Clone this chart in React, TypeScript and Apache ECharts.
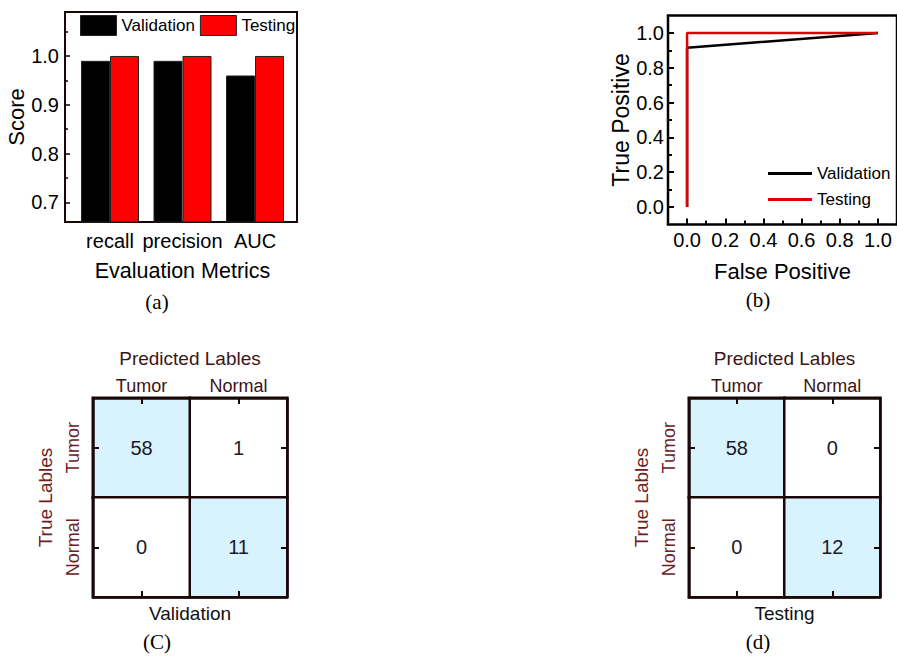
import React, { useEffect, useRef } from "react";
import * as echarts from "echarts";

const categories = ["recall", "precision", "AUC"];
const validationScores = [0.99, 0.99, 0.96];
const testingScores = [1.0, 1.0, 1.0];
const scoreTicks = [0.7, 0.8, 0.9, 1.0];
const scoreMinorTicks = [0.75, 0.85, 0.95, 1.05];

const rocValidation = [
  [0, 0],
  [0, 0.915],
  [1, 1],
];
const rocTesting = [
  [0, 0],
  [0, 1],
  [1, 1],
];
const rocTicks = [0, 0.2, 0.4, 0.6, 0.8, 1.0];
const rocMinorTicks = [0.1, 0.3, 0.5, 0.7, 0.9];

const classLabels = ["Tumor", "Normal"];
const validationMatrix = [
  [0, 0, 58],
  [1, 0, 1],
  [0, 1, 0],
  [1, 1, 11],
];
const testingMatrix = [
  [0, 0, 58],
  [1, 0, 0],
  [0, 1, 0],
  [1, 1, 12],
];

const FONT = "Liberation Sans, Arial, sans-serif";
const SERIF = "Liberation Serif, Times New Roman, serif";
const FRAME = "#1a0808";
const BROWN = "#3d1515";
const REDBROWN = "#6a2222";
const TICK = "#000";

export default function App() {
  const ref = useRef<HTMLDivElement>(null);

  useEffect(() => {
    if (!ref.current) return;
    const chart = echarts.init(ref.current, null, { renderer: "svg" });

    const fmt1 = (v: number) => v.toFixed(1);

    // axis that only draws tick marks
    const tickAxis = (grid: number, pos: string, min: number, max: number, values: number[], length: number, width: number) => ({
      type: "value",
      gridIndex: grid,
      min,
      max,
      position: pos,
      z: 5,
      axisLine: { show: false, onZero: false },
      splitLine: { show: false },
      axisLabel: { show: false },
      axisTick: { show: true, inside: true, length, customValues: values, lineStyle: { color: TICK, width } },
    });

    const heatX = (grid: number, top: boolean, name: string, nameGap: number, nameColor: string) => ({
      type: "category",
      gridIndex: grid,
      data: classLabels,
      position: top ? "top" : "bottom",
      z: 10,
      axisLine: { show: true, onZero: false, lineStyle: { color: FRAME, width: 2.5 } },
      axisTick: { show: true, inside: true, alignWithLabel: true, length: 6, lineStyle: { color: FRAME, width: 2 } },
      axisLabel: { show: top, fontSize: 18, color: BROWN, margin: 3, fontFamily: FONT, interval: 0 },
      splitLine: { show: false },
      name,
      nameLocation: "middle",
      nameGap,
      nameTextStyle: { fontSize: 19, color: nameColor, fontFamily: FONT },
    });

    const heatY = (grid: number, left: boolean) => ({
      type: "category",
      gridIndex: grid,
      data: classLabels,
      inverse: true,
      position: left ? "left" : "right",
      z: 10,
      axisLine: { show: true, onZero: false, lineStyle: { color: FRAME, width: 2.5 } },
      axisTick: { show: true, inside: true, alignWithLabel: true, length: 6, lineStyle: { color: FRAME, width: 2 } },
      axisLabel: { show: left, fontSize: 18, color: REDBROWN, margin: 11, rotate: 90, fontFamily: FONT, interval: 0 },
      splitLine: { show: false },
      name: left ? "True Lables" : "",
      nameLocation: "middle",
      nameGap: 38,
      nameTextStyle: { fontSize: 19, color: REDBROWN, fontFamily: FONT },
    });

    const option: any = {
      animation: false,
      textStyle: { fontFamily: FONT },
      grid: [
        { left: 65, right: 600, top: 12, bottom: 435, show: true, borderColor: FRAME, borderWidth: 2, backgroundColor: "transparent" },
        { left: 73.75, right: 605.75, top: 12, bottom: 435 },
        { left: 668, right: -4, top: 15.6, bottom: 432.6, show: true, borderColor: "#000", borderWidth: 2.5, backgroundColor: "transparent" },
        { left: 93, right: 610, top: 398, bottom: 60 },
        { left: 689, right: 17, top: 398, bottom: 60 },
      ],
      legend: [
        {
          left: 80,
          top: 15,
          padding: 0,
          itemWidth: 36,
          itemHeight: 20,
          itemGap: 5,
          icon: "rect",
          textStyle: { fontSize: 17, color: "#000", fontFamily: FONT },
          data: [
            { name: "Validation", itemStyle: { color: "#000", borderColor: "#222", borderWidth: 1 } },
            { name: "Testing", itemStyle: { color: "#ff0000", borderColor: "#222", borderWidth: 1 } },
          ],
        },
        {
          left: 768,
          top: 165,
          padding: 0,
          orient: "vertical",
          itemWidth: 44,
          itemHeight: 3,
          itemGap: 9,
          icon: "rect",
          textStyle: { fontSize: 17, color: "#000", fontFamily: FONT },
          data: [
            { name: "Validation", itemStyle: { color: "#000", borderWidth: 0 } },
            { name: "Testing", itemStyle: { color: "#e00000", borderWidth: 0 } },
          ],
        },
      ],
      visualMap: [
        {
          type: "piecewise",
          show: false,
          seriesIndex: [4, 5],
          dimension: 2,
          pieces: [
            { min: -1, max: 5, color: "#ffffff" },
            { min: 5, max: 1000, color: "#d8f3fd" },
          ],
        },
      ],
      xAxis: [
        { type: "value", gridIndex: 0, min: 0, max: 1, show: false },
        {
          type: "category",
          gridIndex: 1,
          data: categories,
          axisLine: { show: false, onZero: false },
          axisTick: { show: false },
          axisLabel: { fontSize: 20, color: "#000", margin: 9, fontFamily: FONT, interval: 0 },
          name: "Evaluation Metrics",
          nameLocation: "middle",
          nameGap: 38,
          nameTextStyle: { fontSize: 21.5, color: "#000", fontFamily: FONT },
        },
        {
          type: "value",
          gridIndex: 2,
          min: -0.1,
          max: 1.1,
          position: "bottom",
          axisLine: { show: false, onZero: false },
          splitLine: { show: false },
          axisTick: { show: false },
          axisLabel: { fontSize: 20, color: "#000", margin: 6, customValues: rocTicks, formatter: fmt1, fontFamily: FONT },
          name: "False Positive",
          nameLocation: "middle",
          nameGap: 36,
          nameTextStyle: { fontSize: 22, color: "#000", fontFamily: FONT },
        },
        tickAxis(2, "bottom", -0.1, 1.1, rocTicks, 6, 2),
        tickAxis(2, "bottom", -0.1, 1.1, rocMinorTicks, 4, 2),
        heatX(3, true, "Predicted Lables", 30, BROWN),
        heatX(3, false, "Validation", 7, "#111"),
        heatX(4, true, "Predicted Lables", 30, BROWN),
        heatX(4, false, "Testing", 7, "#111"),
      ],
      yAxis: [
        {
          type: "value",
          gridIndex: 0,
          min: 0.66,
          max: 1.09,
          position: "left",
          axisLine: { show: false, onZero: false },
          splitLine: { show: false },
          axisTick: { show: false },
          axisLabel: { fontSize: 20, color: "#000", margin: 6, customValues: scoreTicks, formatter: fmt1, fontFamily: FONT },
          name: "Score",
          nameLocation: "middle",
          nameGap: 37,
          nameTextStyle: { fontSize: 22, color: "#000", fontFamily: FONT },
        },
        tickAxis(0, "left", 0.66, 1.09, scoreTicks, 5, 1.5),
        tickAxis(0, "left", 0.66, 1.09, scoreMinorTicks, 3, 1.5),
        { type: "value", gridIndex: 1, min: 0.66, max: 1.09, show: false },
        {
          type: "value",
          gridIndex: 2,
          min: -0.1,
          max: 1.1,
          position: "left",
          axisLine: { show: false, onZero: false },
          splitLine: { show: false },
          axisTick: { show: false },
          axisLabel: { fontSize: 20, color: "#000", margin: 4, customValues: rocTicks, formatter: fmt1, fontFamily: FONT },
          name: "True Positive",
          nameLocation: "middle",
          nameGap: 35,
          nameTextStyle: { fontSize: 23, color: "#000", fontFamily: FONT },
        },
        tickAxis(2, "left", -0.1, 1.1, rocTicks, 6, 2),
        tickAxis(2, "left", -0.1, 1.1, rocMinorTicks, 4, 2),
        heatY(3, true),
        heatY(3, false),
        heatY(4, true),
        heatY(4, false),
      ],
      series: [
        {
          name: "Validation",
          type: "bar",
          xAxisIndex: 1,
          yAxisIndex: 3,
          data: validationScores,
          barWidth: 29,
          barGap: "0%",
          itemStyle: { color: "#000", borderColor: "#222", borderWidth: 1 },
        },
        {
          name: "Testing",
          type: "bar",
          xAxisIndex: 1,
          yAxisIndex: 3,
          data: testingScores,
          barWidth: 29,
          barGap: "0%",
          itemStyle: { color: "#ff0000", borderColor: "#222", borderWidth: 1 },
        },
        {
          name: "Validation",
          type: "line",
          xAxisIndex: 2,
          yAxisIndex: 4,
          data: rocValidation,
          symbol: "none",
          lineStyle: { color: "#000", width: 2.5 },
          itemStyle: { color: "#000" },
        },
        {
          name: "Testing",
          type: "line",
          xAxisIndex: 2,
          yAxisIndex: 4,
          data: rocTesting,
          symbol: "none",
          lineStyle: { color: "#e00000", width: 2.5 },
          itemStyle: { color: "#e00000" },
        },
        {
          type: "heatmap",
          xAxisIndex: 5,
          yAxisIndex: 7,
          data: validationMatrix,
          itemStyle: { borderColor: FRAME, borderWidth: 2.5 },
          label: { show: true, fontSize: 20, color: "#1a1a2a", fontFamily: FONT, formatter: (p: any) => String(p.value[2]) },
        },
        {
          type: "heatmap",
          xAxisIndex: 7,
          yAxisIndex: 9,
          data: testingMatrix,
          itemStyle: { borderColor: FRAME, borderWidth: 2.5 },
          label: { show: true, fontSize: 20, color: "#1a1a2a", fontFamily: FONT, formatter: (p: any) => String(p.value[2]) },
        },
      ],
      graphic: [
        { type: "text", x: 157, y: 302, style: { text: "(a)", font: `21px ${SERIF}`, fill: "#000", align: "center", verticalAlign: "middle" } },
        { type: "text", x: 758, y: 300, style: { text: "(b)", font: `21px ${SERIF}`, fill: "#000", align: "center", verticalAlign: "middle" } },
        { type: "text", x: 157, y: 642, style: { text: "(C)", font: `21px ${SERIF}`, fill: "#000", align: "center", verticalAlign: "middle" } },
        { type: "text", x: 758, y: 642, style: { text: "(d)", font: `21px ${SERIF}`, fill: "#000", align: "center", verticalAlign: "middle" } },
      ],
    };

    chart.setOption(option);
    return () => chart.dispose();
  }, []);

  return (
    <div
      ref={ref}
      style={{ position: "fixed", left: 0, top: 0, width: 897, height: 657, background: "#fff" }}
    />
  );
}
